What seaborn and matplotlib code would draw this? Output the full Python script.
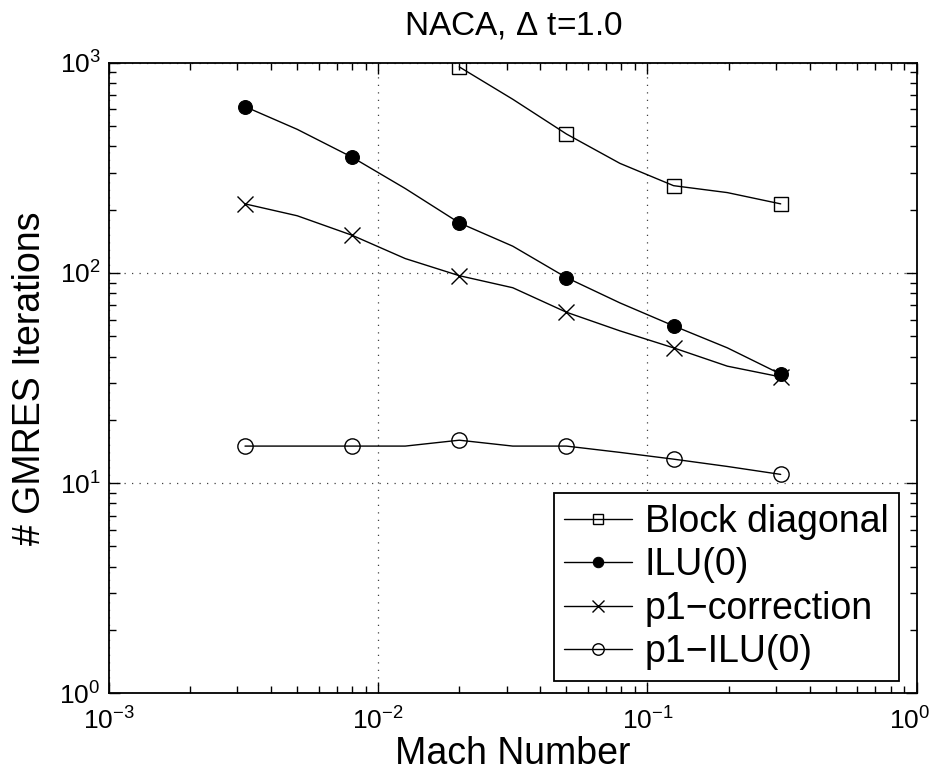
import matplotlib
matplotlib.use("Agg")
import matplotlib.pyplot as plt
import matplotlib.transforms as mtransforms
import seaborn as sns
import numpy as np
from matplotlib.ticker import LogLocator, LogFormatterMathtext, NullFormatter, FixedLocator

# ---- data ----
mach = [0.0032, 0.005, 0.008, 0.0126, 0.02, 0.0316, 0.05, 0.079, 0.125, 0.198, 0.3125]
block_x = [0.02, 0.0316, 0.05, 0.079, 0.125, 0.198, 0.3125]
block_diag = [955, 670, 458, 332, 260, 241, 213]
ilu0 = [618, 482, 355, 252, 173, 134, 95, 72, 56, 44, 33]
p1_corr = [213, 187, 151, 117, 97, 85, 65, 53, 44, 36, 32]
p1_ilu0 = [15, 15, 15, 15, 16, 15, 15, 14, 13, 12, 11]
x_major = [1e-3, 1e-2, 1e-1, 1e0]
y_major = [1e0, 1e1, 1e2, 1e3]

title = "NACA, $\\Delta$ t=1.0"
xlabel = "Mach Number"
ylabel = "# GMRES Iterations"

sns.set_style("ticks")
plt.rcParams['font.family'] = ['Liberation Sans', 'DejaVu Sans']
plt.rcParams['mathtext.fontset'] = 'custom'
plt.rcParams['mathtext.rm'] = 'Liberation Sans'
plt.rcParams['mathtext.it'] = 'Liberation Sans'
plt.rcParams['mathtext.default'] = 'regular'
plt.rcParams['text.color'] = 'k'
plt.rcParams['axes.labelcolor'] = 'k'
plt.rcParams['xtick.color'] = 'k'
plt.rcParams['ytick.color'] = 'k'

fig = plt.figure(figsize=(9.34, 7.74), dpi=100)
ax = fig.add_axes([109/934, 1-693.3/774, (916.7-109)/934, (693.3-62.7)/774])

common = dict(color='k', linewidth=1.0, markevery=2, ax=ax)
sns.lineplot(x=block_x, y=block_diag, marker='s', markersize=10, markerfacecolor='none',
             markeredgecolor='k', markeredgewidth=1.0, label='Block diagonal', **common)
sns.lineplot(x=mach, y=ilu0, marker='o', markersize=10, markerfacecolor='k',
             markeredgecolor='k', label='ILU(0)', **common)
sns.lineplot(x=mach, y=p1_corr, marker='x', markersize=11, markeredgewidth=1.0,
             markeredgecolor='k', label='p1\u2212correction', **common)
sns.lineplot(x=mach, y=p1_ilu0, marker='o', markersize=11, markerfacecolor='none',
             markeredgecolor='k', markeredgewidth=1.0, label='p1\u2212ILU(0)', **common)

ax.set_xscale('log')
ax.set_yscale('log')
ax.set_xlim(1e-3, 1e0)
ax.set_ylim(1e0, 1e3)

for axis, maj in ((ax.xaxis, x_major), (ax.yaxis, y_major)):
    axis.set_major_locator(FixedLocator(maj))
    axis.set_major_formatter(LogFormatterMathtext())
    axis.set_minor_locator(LogLocator(base=10, subs=np.arange(2, 10), numticks=100))
    axis.set_minor_formatter(NullFormatter())

ax.tick_params(which='both', direction='in', top=True, right=True, colors='k',
               labelsize=19, width=1.0)
ax.tick_params(which='major', length=8)
ax.tick_params(which='minor', length=5)
ax.tick_params(axis='x', which='major', pad=10)
ax.tick_params(axis='y', which='major', pad=6)

ax.grid(True, which='major', linestyle=(0, (1, 5)), color='0.25', linewidth=0.9)
for s in ax.spines.values():
    s.set_color('k')
    s.set_linewidth(1.3)

ax.set_title(title, fontsize=24, pad=20)
ax.set_xlabel(xlabel, fontsize=27, labelpad=1)
ax.set_ylabel(ylabel, fontsize=27, labelpad=8)

leg = ax.legend(loc='lower right', bbox_to_anchor=(0.978, 0.02), fontsize=27,
                frameon=True, fancybox=False, edgecolor='k', framealpha=1,
                handlelength=1.8, handletextpad=0.35, borderpad=0.28,
                labelspacing=0.2, markerscale=0.75, borderaxespad=0)
leg.get_frame().set_linewidth(1.3)

# keep the rightmost x tick label inside the figure
fig.canvas.draw()
for tick in ax.xaxis.get_major_ticks():
    if np.isclose(tick.get_loc(), 1.0):
        lab = tick.label1
        lab.set_transform(lab.get_transform() +
                          mtransforms.ScaledTranslation(-7/100, 0, fig.dpi_scale_trans))

fig.savefig("out.png", dpi=100)
